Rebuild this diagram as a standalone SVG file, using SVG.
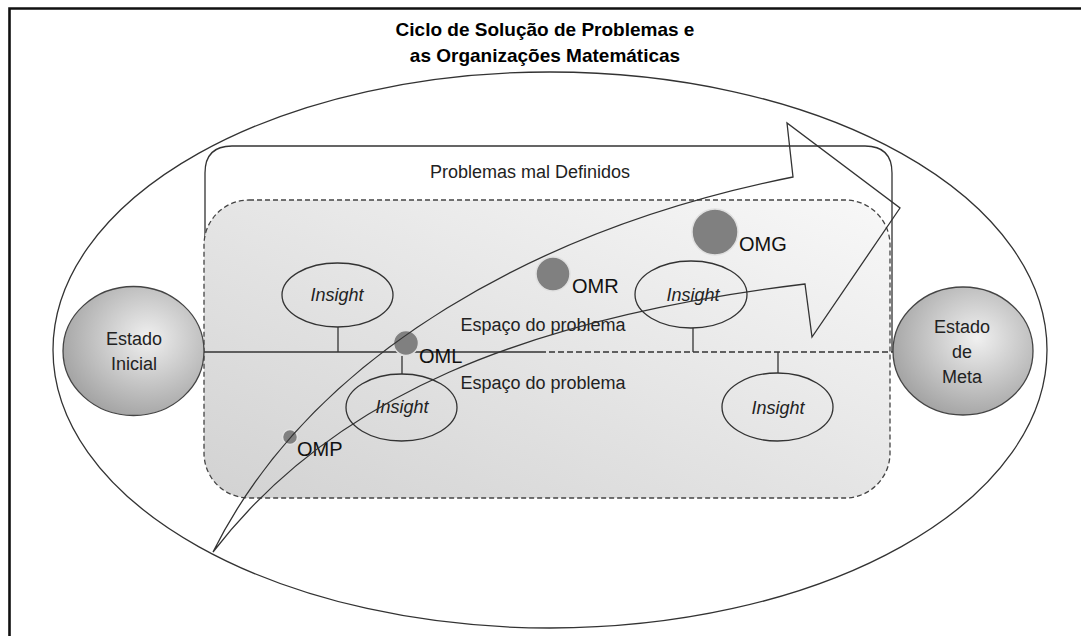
<svg xmlns="http://www.w3.org/2000/svg" width="1081" height="636" viewBox="0 0 1081 636">
<defs>
<style>
.t{font-family:"Liberation Sans",Arial,sans-serif;fill:#222;}
.title{font-size:19px;font-weight:bold;fill:#000;text-anchor:middle;}
.lbl{font-size:18px;text-anchor:middle;}
.ins{font-size:18px;font-style:italic;text-anchor:middle;}
.om{font-size:20px;fill:#111;}
.ln{fill:none;stroke:#333;stroke-width:1.3;}
.dash{fill:none;stroke:#333;stroke-width:1.4;stroke-dasharray:6,3;}
.insight{fill:none;stroke:#333;stroke-width:1.3;}
.omc{fill:#808080;stroke:#e0e0e0;stroke-width:1.5;}
.estado{fill:url(#gEst);stroke:#444;stroke-width:1.3;}
</style>
<linearGradient id="gSpace" x1="1" y1="0" x2="0" y2="1">
<stop offset="0" stop-color="#f8f8f8"/>
<stop offset="1" stop-color="#d2d2d2"/>
</linearGradient>
<radialGradient id="gEst" cx="0.6" cy="0.4" r="0.7">
<stop offset="0" stop-color="#f0f0f0"/>
<stop offset="1" stop-color="#9c9c9c"/>
</radialGradient>
</defs>
<rect x="0" y="0" width="1081" height="636" fill="#fff"/>
<path d="M9.5,636 V8.5 H1081" fill="none" stroke="#111" stroke-width="2.6"/>

<g id="title">
<text class="t title" x="545" y="36">Ciclo de Solução de Problemas e</text>
<text class="t title" x="545" y="62">as Organizações Matemáticas</text>
</g>

<g id="outer-cycle">
<ellipse cx="550" cy="350" rx="497" ry="278" fill="#fff" stroke="#333" stroke-width="1.3"/>
</g>

<g id="problemas-mal-definidos">
<path d="M205,352 V173 Q205,146 232,146 H865 Q892,146 892,173 V352" fill="none" stroke="#333" stroke-width="1.3"/>
<text class="t lbl" x="530" y="178">Problemas mal Definidos</text>
</g>

<g id="espaco-do-problema">
<rect x="204" y="200" width="686" height="298" rx="45" ry="45" fill="url(#gSpace)" stroke="#444" stroke-width="1.3" stroke-dasharray="5,3"/>
<text class="t lbl" x="543" y="331">Espaço do problema</text>
<text class="t lbl" x="543" y="389">Espaço do problema</text>
</g>

<g id="connectors">
<line class="ln" x1="204" y1="352" x2="540" y2="352"/>
<line class="dash" x1="540" y1="352" x2="893" y2="352"/>
<line class="ln" x1="338" y1="327" x2="338" y2="352"/>
<line class="ln" x1="402" y1="356" x2="402" y2="374"/>
<line class="ln" x1="693" y1="328" x2="693" y2="352"/>
<line class="ln" x1="778" y1="352" x2="778" y2="373"/>
</g>

<g id="insight-1">
<ellipse class="insight" cx="337.5" cy="295" rx="55.5" ry="32"/>
<text class="t ins" x="337" y="301">Insight</text>
</g>
<g id="insight-2">
<ellipse class="insight" cx="401.5" cy="407.5" rx="55.5" ry="33.5"/>
<text class="t ins" x="402" y="413">Insight</text>
</g>
<g id="insight-3">
<ellipse class="insight" cx="691" cy="294.5" rx="56" ry="33.5"/>
<text class="t ins" x="693" y="301">Insight</text>
</g>
<g id="insight-4">
<ellipse class="insight" cx="777.5" cy="407" rx="55.5" ry="34"/>
<text class="t ins" x="778" y="414">Insight</text>
</g>

<g id="estado-inicial">
<ellipse class="estado" cx="133.5" cy="351" rx="70.5" ry="64.5"/>
<text class="t lbl" x="134" y="345">Estado</text>
<text class="t lbl" x="134" y="370">Inicial</text>
</g>
<g id="estado-de-meta">
<ellipse class="estado" cx="963" cy="351" rx="70" ry="64"/>
<text class="t lbl" x="962" y="333">Estado</text>
<text class="t lbl" x="962" y="358">de</text>
<text class="t lbl" x="962" y="383">Meta</text>
</g>

<g id="omp">
<circle class="omc" cx="290" cy="437" r="7.5"/>
<text class="t om" x="297" y="456">OMP</text>
</g>
<g id="oml">
<circle class="omc" cx="406" cy="343" r="12.5"/>
<text class="t om" x="419" y="363">OML</text>
</g>
<g id="omr">
<circle class="omc" cx="553" cy="274" r="17"/>
<text class="t om" x="572" y="293">OMR</text>
</g>
<g id="omg">
<circle class="omc" cx="715" cy="232" r="23"/>
<text class="t om" x="739" y="251">OMG</text>
</g>

<g id="arrow">
<path d="M213,552 C313,352 543,227 793,177 L787,123 L900,208 L812,337 L805,284 C525,318 333,396 213,552 Z" fill="none" stroke="#333" stroke-width="1.3" stroke-linejoin="miter"/>
</g>
</svg>
